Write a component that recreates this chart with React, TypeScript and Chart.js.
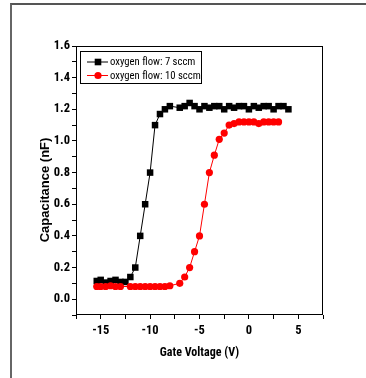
import React, { useEffect, useRef } from "react";
import { Chart, registerables } from "chart.js";

Chart.register(...registerables);

// ---- data ----
const voltage7 = [-15.4, -15, -14.5, -14, -13.5, -13, -12.5, -12, -11.5, -11, -10.5, -10, -9.5, -9, -8.5, -8, -7, -6.5, -6, -5.5, -5, -4.5, -4, -3.5, -3, -2.5, -2, -1.5, -1, -0.5, 0, 0.5, 1, 1.5, 2, 2.5, 3, 3.5, 4];
const cap7 = [0.115, 0.122, 0.105, 0.115, 0.122, 0.109, 0.109, 0.14, 0.2, 0.4, 0.6, 0.8, 1.1, 1.17, 1.2, 1.22, 1.21, 1.22, 1.24, 1.22, 1.2, 1.22, 1.21, 1.22, 1.22, 1.2, 1.22, 1.21, 1.22, 1.22, 1.2, 1.22, 1.21, 1.22, 1.22, 1.2, 1.22, 1.22, 1.2];

const voltage10 = [-15.4, -15, -14.5, -14, -13.5, -13, -12, -11.5, -11, -10.5, -10, -9.5, -9, -8.5, -8, -7, -6.5, -6, -5.5, -5, -4.5, -4, -3.5, -3, -2.5, -2, -1.5, -1, -0.5, 0, 0.5, 1, 1.5, 2, 2.5, 3];
const cap10 = [0.08, 0.08, 0.08, 0.085, 0.08, 0.08, 0.08, 0.08, 0.08, 0.08, 0.08, 0.08, 0.08, 0.08, 0.085, 0.1, 0.14, 0.2, 0.3, 0.4, 0.6, 0.8, 0.91, 1.01, 1.05, 1.1, 1.11, 1.12, 1.12, 1.12, 1.12, 1.11, 1.12, 1.12, 1.12, 1.12];

const seriesLabels = ["oxygen flow: 7 sccm", "oxygen flow: 10 sccm"];
const seriesColors = ["#000000", "#ff0000"];
const xTitle = "Gate Voltage (V)";
const yTitle = "Capacitance (nF)";
const xMin = -17.5;
const xMax = 7.5;
const xStep = 2.5;
const yMin = -0.1;
const yMax = 1.6;
const yStep = 0.1;

const NARROW = '"Roboto Condensed", "DejaVu Sans Condensed", "Liberation Sans", sans-serif';
const WIDE = '"Liberation Sans", Arial, sans-serif';

const framePlugin = {
  id: "frameAndLegend",
  afterDraw(chart: any) {
    const { ctx, chartArea } = chart;
    ctx.save();
    // plot border
    ctx.strokeStyle = "#000";
    ctx.lineWidth = 1;
    const l = Math.round(chartArea.left) + 0.5;
    const t = Math.round(chartArea.top) + 0.5;
    const r = Math.round(chartArea.right) - 0.5;
    const b = Math.round(chartArea.bottom) - 0.5;
    ctx.strokeRect(l, t, r - l, b - t);

    // y title
    ctx.fillStyle = "#000";
    ctx.font = "bold 13px " + WIDE;
    ctx.textAlign = "center";
    ctx.textBaseline = "middle";
    ctx.save();
    ctx.translate(45, 190);
    ctx.rotate(-Math.PI / 2);
    ctx.fillText(yTitle, 0, 0);
    ctx.restore();

    // legend
    const bx = 80.5, by = 51.5, bw = 121, bh = 32;
    ctx.fillStyle = "#fff";
    ctx.fillRect(bx, by, bw, bh);
    ctx.strokeStyle = "#000";
    ctx.lineWidth = 1;
    ctx.strokeRect(bx, by, bw, bh);
    const rows = [62, 75.5];
    chart.data.datasets.forEach((ds: any, i: number) => {
      const y = rows[i];
      ctx.strokeStyle = ds.borderColor;
      ctx.lineWidth = 1;
      ctx.beginPath();
      ctx.moveTo(87, y);
      ctx.lineTo(108, y);
      ctx.stroke();
      ctx.fillStyle = ds.backgroundColor;
      if (ds.pointStyle === "rect") {
        ctx.fillRect(98 - 3.3, y - 3.3, 6.6, 6.6);
      } else {
        ctx.beginPath();
        ctx.arc(98, y, 3.6, 0, Math.PI * 2);
        ctx.fill();
      }
      ctx.fillStyle = "#000";
      ctx.font = "10.7px " + NARROW;
      ctx.textAlign = "left";
      ctx.textBaseline = "middle";
      ctx.fillText(ds.label, 110, y + 0.5);
    });
    ctx.restore();
  },
};

export default function App() {
  const ref = useRef<HTMLCanvasElement | null>(null);

  useEffect(() => {
    if (!ref.current) return;
    const chart = new Chart(ref.current, {
      type: "line",
      data: {
        datasets: [
          {
            label: seriesLabels[0],
            data: voltage7.map((x, i) => ({ x, y: cap7[i] })),
            borderColor: seriesColors[0],
            backgroundColor: seriesColors[0],
            borderWidth: 1,
            pointStyle: "rect",
            pointRadius: 4.6,
            pointBorderWidth: 0,
            tension: 0,
            order: 1,
          },
          {
            label: seriesLabels[1],
            data: voltage10.map((x, i) => ({ x, y: cap10[i] })),
            borderColor: seriesColors[1],
            backgroundColor: seriesColors[1],
            borderWidth: 1,
            pointStyle: "circle",
            pointRadius: 3.6,
            pointBorderWidth: 0,
            tension: 0,
            order: 0,
          },
        ],
      },
      options: {
        animation: false,
        responsive: false,
        devicePixelRatio: 1,
        layout: { padding: { top: 46, right: 43, left: 0, bottom: 0 } },
        plugins: {
          legend: { display: false },
          tooltip: { enabled: false },
        },
        scales: {
          x: {
            type: "linear",
            min: xMin,
            max: xMax,
            afterFit(scale: any) {
              scale.height = 63;
            },
            ticks: {
              stepSize: xStep,
              autoSkip: false,
              maxRotation: 0,
              padding: 4,
              color: "#000",
              font: { family: NARROW, size: 12.5, weight: "bold" },
              callback: (v: any) => {
                const k = Math.round(Number(v) * 2);
                return k % 10 === 0 ? String(k / 2) : "";
              },
            },
            grid: { drawOnChartArea: false, drawTicks: true, tickLength: 4, color: "#000" },
            border: { display: false },
            title: {
              display: true,
              text: xTitle,
              color: "#000",
              font: { family: NARROW, size: 12, weight: "bold" },
              padding: { top: 0, bottom: 18 },
            },
          },
          y: {
            type: "linear",
            min: yMin,
            max: yMax,
            afterFit(scale: any) {
              scale.width = 76;
            },
            ticks: {
              stepSize: yStep,
              autoSkip: false,
              padding: 2,
              color: "#000",
              font: { family: NARROW, size: 12.5, weight: "bold" },
              callback: (v: any) => {
                const k = Math.round(Number(v) * 10);
                return k % 2 === 0 && k >= 0 ? (k / 10).toFixed(1) : "";
              },
            },
            grid: { drawOnChartArea: false, drawTicks: true, tickLength: 4, color: "#000" },
            border: { display: false },
            title: { display: false },
          },
        },
      },
      plugins: [framePlugin],
    });
    return () => chart.destroy();
  }, []);

  return (
    <div style={{ position: "fixed", left: 0, top: 0, width: 366, height: 378, background: "#fff", overflow: "hidden" }}>
      <div
        style={{
          position: "absolute",
          left: 10,
          top: 3,
          width: 370,
          height: 373,
          borderTop: "2px solid #555",
          borderLeft: "2px solid #666",
          borderBottom: "1px solid #ddd",
        }}
      />
      <canvas ref={ref} width={366} height={378} style={{ position: "absolute", left: 0, top: 0, width: 366, height: 378 }} />
    </div>
  );
}
